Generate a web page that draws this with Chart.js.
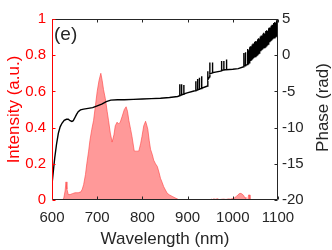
<!DOCTYPE html>
<html><head><meta charset="utf-8">
<script src="https://cdn.jsdelivr.net/npm/chart.js@4/dist/chart.umd.min.js"></script>
<style>html,body{margin:0;padding:0;background:#fff}#wrap{width:332px;height:250px;position:relative}</style>
</head><body><div id="wrap"><canvas id="c"></canvas></div>
<script>
const xTicks = [600, 700, 800, 900, 1000, 1100];
const intensityTicks = [0, 0.2, 0.4, 0.6, 0.8, 1];
const phaseTicks = [-20, -15, -10, -5, 0, 5];

const intensityWavelength = [622,626,629,631,633,636,640,645,651,658,664,667,670,674,677,681,684,688,692,696,700,704,708,711,714,718,722,725,729,733,737,740,744,747,751,755,760,764,767,770,774,777,782,787,792,796,799,803,807,810,812,815,818,822,825,829,833,837,840,844,847,851,855,860,866,872,878,881,950,952,955,958,962,966,970,975,980,985,990,995,1000,1004,1008,1012,1016,1020,1024,1027,1029,1030,1033,1035,1037,1038];
const intensityValues = [0,0.01,0.05,0.1,0.06,0.03,0.03,0.035,0.04,0.04,0.045,0.06,0.085,0.14,0.2,0.27,0.33,0.39,0.44,0.52,0.6,0.66,0.70,0.66,0.61,0.56,0.49,0.44,0.37,0.32,0.36,0.41,0.43,0.42,0.43,0.46,0.5,0.515,0.49,0.44,0.39,0.35,0.27,0.27,0.27,0.31,0.35,0.41,0.435,0.41,0.39,0.33,0.28,0.25,0.22,0.2,0.185,0.15,0.12,0.095,0.074,0.055,0.037,0.028,0.02,0.012,0.005,0,0,0.005,0.003,0.006,0.004,0.007,0.002,0.004,0.005,0.003,0.006,0.005,0.008,0.012,0.02,0.03,0.037,0.034,0.025,0.01,0.015,0,0,0.028,0.028,0];

const phaseWavelength = [600,603,606,610,614,618,622,627,632,636,640,644,647,650,654,658,663,670,680,690,700,710,720,730,745,760,780,800,820,840,860,878,
882,882.5,883,886,886.5,887,891,891.5,892,899,914,917.5,918,918.5,921.5,922,922.5,925.5,926,926.5,930.5,931,931.5,944,944.5,945,948.5,949,949.5,954.5,955,955.5,973,974.5,975,975.5,979.5,980,980.5,985.5,986,986.5,1000,1012,1024,1024.5,1025,1027.5,1028,1028.5,
1032,1033,1034,1035,1036,1037,1038,1039,1040,1041,1042,1043,1044,1045,1046,1047,1048,1049,1050,1051,1052,1053,1054,1055,1056,1057,1058,1059,1060,1061,1062,1063,1064,1065,1066,1067,1068,1069,1070,1071,1072,1073,1074,1075,1076,1077,1078,1079,1080,1081,1082,1083,1084,1085,1086,1087,1088,1089,1090,1091,1092,1093,1094,1095,1096,1097,1098,1099,1100];
const phaseValues = [-17.8,-16.0,-14.2,-12.3,-10.8,-9.9,-9.4,-9.0,-8.85,-8.85,-9.05,-9.15,-9.05,-8.7,-8.2,-7.8,-7.55,-7.45,-7.35,-7.25,-7.0,-6.75,-6.4,-6.2,-6.15,-6.15,-6.1,-6.05,-6.0,-5.95,-5.85,-5.7,
-5.6,-4.0,-5.55,-5.5,-4.0,-5.45,-5.4,-4.1,-5.35,-5.2,-4.95,-4.9,-3.6,-4.85,-4.8,-3.3,-4.75,-4.7,-3.1,-4.65,-4.6,-2.9,-4.55,-4.25,-2.2,-3.4,-3.0,-1.0,-2.6,-2.45,-1.0,-2.4,-2.2,-2.15,-0.8,-2.1,-2.05,-0.8,-2.0,-2.0,-0.6,-2.0,-1.95,-1.85,-1.6,0.3,-1.5,-1.45,0.4,-1.4,
-1.30,0.86,-1.18,0.7,-1.05,1.11,-0.93,1.23,-0.81,1.1,-0.68,1.48,-0.56,1.60,-0.43,1.5,-0.31,1.85,-0.19,1.97,-0.06,1.9,0.06,2.22,0.18,2.34,0.31,2.2,0.43,2.59,0.55,2.72,0.68,2.6,0.80,2.96,0.92,3.09,1.05,2.95,1.17,3.33,1.30,3.46,1.42,3.35,1.54,3.71,1.67,3.83,1.79,3.7,1.92,4.08,2.04,4.20,2.16,4.05,2.29,4.45,2.41,4.57,2.54,4.45,2.66,4.82,2.78,4.95,2.91];

const FONT = "'Liberation Sans', Arial, sans-serif";
const RED = '#ff0000';
const DARK = '#262626';

function pts(xs, ys){ return xs.map((x,i)=>({x:x, y:ys[i]})); }

const boxPlugin = {
  id: 'boxPlugin',
  afterDraw(chart){
    const {ctx, chartArea:a, scales} = chart;
    const L = Math.round(a.left)+0.5, R = Math.round(a.right)-0.5;
    const T = Math.round(a.top)+0.5, B = Math.round(a.bottom)-0.5;
    const tl = 3;
    ctx.save();
    ctx.lineWidth = 1;
    ctx.strokeStyle = DARK;
    ctx.beginPath(); ctx.moveTo(L,T); ctx.lineTo(R,T); ctx.moveTo(L,B); ctx.lineTo(R,B); ctx.stroke();
    ctx.beginPath();
    xTicks.forEach(v=>{
      const x = Math.round(scales.x.getPixelForValue(v))+0.5;
      ctx.moveTo(x,B); ctx.lineTo(x,B-tl);
      ctx.moveTo(x,T); ctx.lineTo(x,T+tl);
    });
    ctx.stroke();
    ctx.strokeStyle = RED;
    ctx.beginPath(); ctx.moveTo(L,T); ctx.lineTo(L,B);
    intensityTicks.forEach(v=>{
      const y = Math.round(scales.y.getPixelForValue(v))+0.5;
      ctx.moveTo(L,y); ctx.lineTo(L+tl,y);
    });
    ctx.stroke();
    ctx.strokeStyle = DARK;
    ctx.beginPath(); ctx.moveTo(R,T); ctx.lineTo(R,B);
    phaseTicks.forEach(v=>{
      const y = Math.round(scales.y2.getPixelForValue(v))+0.5;
      ctx.moveTo(R,y); ctx.lineTo(R-tl,y);
    });
    ctx.stroke();
    ctx.fillStyle = DARK;
    ctx.font = '19px ' + FONT;
    ctx.textBaseline = 'alphabetic';
    ctx.textAlign = 'left';
    ctx.fillText('(e)', a.left + 2, a.top + 21);
    ctx.translate(323, (a.top + a.bottom) / 2 - 2);
    ctx.rotate(-Math.PI / 2);
    ctx.font = '17px ' + FONT;
    ctx.textAlign = 'center';
    ctx.textBaseline = 'middle';
    ctx.fillText('Phase (rad)', 0, 0);
    ctx.restore();
  }
};

new Chart(document.getElementById('c'), {
  type: 'line',
  data: {
    datasets: [
      {
        label: 'Phase',
        data: pts(phaseWavelength, phaseValues),
        yAxisID: 'y2',
        borderColor: '#000000',
        borderWidth: 1.4,
        pointRadius: 0,
        fill: false,
        tension: 0,
        order: 1
      },
      {
        label: 'Intensity',
        data: pts(intensityWavelength, intensityValues),
        yAxisID: 'y',
        borderColor: 'rgba(255,70,70,0.8)',
        borderWidth: 0.8,
        backgroundColor: 'rgb(255,153,153)',
        pointRadius: 0,
        fill: 'origin',
        tension: 0,
        order: 2
      }
    ]
  },
  options: {
    responsive: true,
    maintainAspectRatio: false,
    animation: false,
    layout: { padding: { top: 19, left: 0, right: 0, bottom: 0 } },
    plugins: { legend: { display: false }, tooltip: { enabled: false } },
    scales: {
      x: {
        type: 'linear', min: 600, max: 1100,
        afterBuildTicks: s => { s.ticks = xTicks.map(v=>({value:v})); },
        afterFit: s => { s.height = 50; },
        grid: { display: false, drawTicks: false },
        border: { display: false },
        ticks: { color: DARK, font: { family: FONT, size: 15 }, padding: 9, maxRotation: 0, autoSkip: false, callback: v => String(v) },
        title: { display: true, text: 'Wavelength (nm)', color: DARK, font: { family: FONT, size: 17 }, padding: { top: 0, bottom: 0 } }
      },
      y: {
        type: 'linear', position: 'left', min: 0, max: 1,
        afterBuildTicks: s => { s.ticks = intensityTicks.map(v=>({value:v})); },
        afterFit: s => { s.width = 52; },
        grid: { display: false, drawTicks: false },
        border: { display: false },
        ticks: { color: RED, font: { family: FONT, size: 15 }, padding: 6, autoSkip: false, callback: v => String(v) },
        title: { display: true, text: 'Intensity (a.u.)', color: RED, font: { family: FONT, size: 17 }, padding: { top: 4, bottom: 2 } }
      },
      y2: {
        type: 'linear', position: 'right', min: -20, max: 5,
        afterBuildTicks: s => { s.ticks = phaseTicks.map(v=>({value:v})); },
        afterFit: s => { s.width = 54; },
        grid: { display: false, drawTicks: false },
        border: { display: false },
        ticks: { color: DARK, font: { family: FONT, size: 15 }, padding: 4, autoSkip: false, callback: v => String(v) },
        title: { display: false }
      }
    }
  },
  plugins: [boxPlugin]
});
</script>
</body></html>
